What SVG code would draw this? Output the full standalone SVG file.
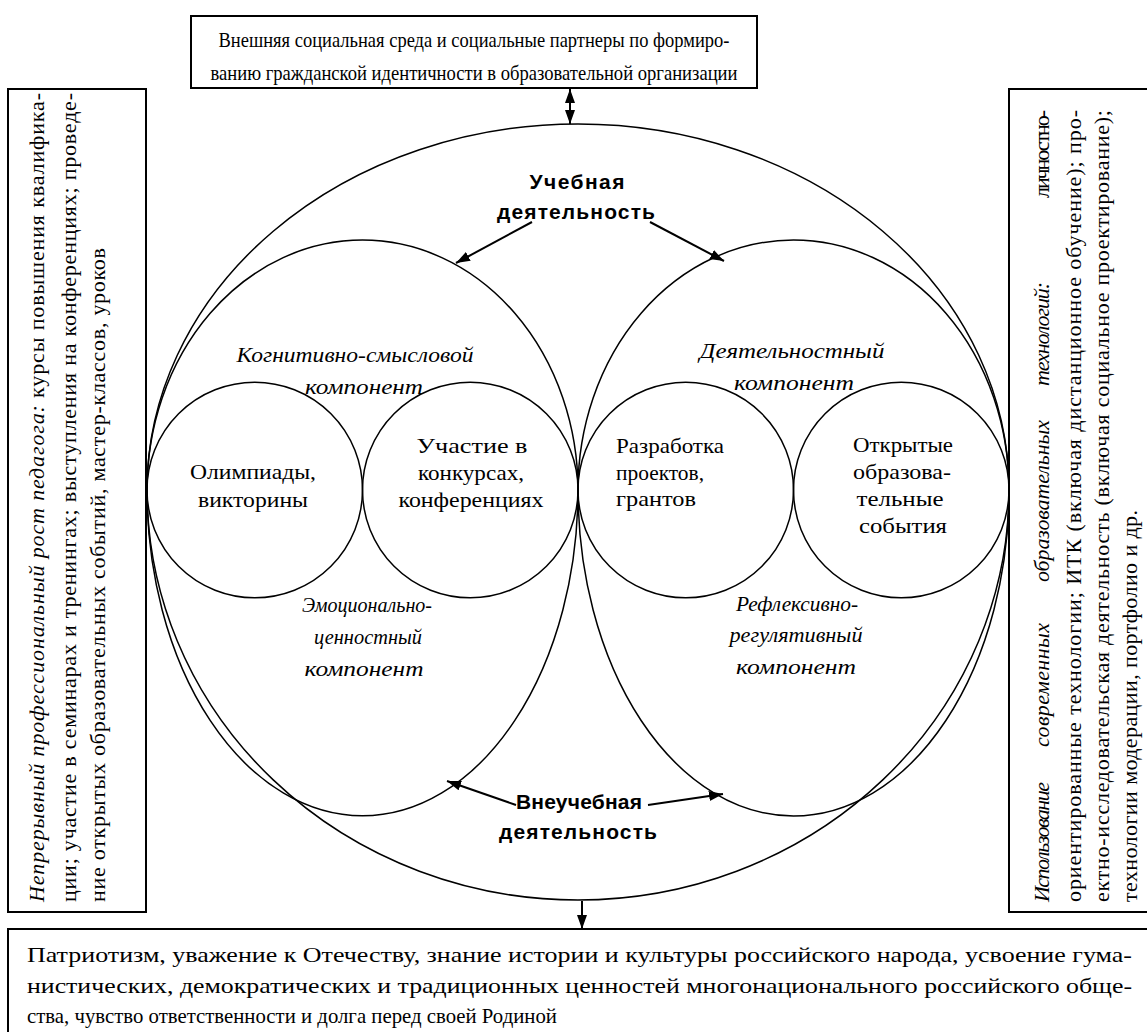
<svg xmlns="http://www.w3.org/2000/svg" width="1147" height="1032" viewBox="0 0 1147 1032">
<defs>
<style>
.box{fill:#fff;stroke:#000;stroke-width:2}
.sh{fill:none;stroke:#000;stroke-width:1.5}
.t{font-family:'Liberation Serif','Times New Roman',serif;font-size:21px;fill:#000}
.s{font-size:22px}
.l{font-size:22px}
.c{text-anchor:middle}
.i{font-style:italic}
.b{font-family:'Liberation Sans',Arial,sans-serif;font-weight:bold;font-size:21px;fill:#000}
.ar{stroke:#000;stroke-width:2;fill:none}
</style>
<marker id="ah" viewBox="0 0 14 10" refX="14" refY="5" markerWidth="14" markerHeight="10" orient="auto-start-reverse" markerUnits="userSpaceOnUse"><path d="M0,0 L14,5 L0,10 z" fill="#000"/></marker>
</defs>
<rect width="1147" height="1032" fill="#fff"/>

<g id="shapes">
<path id="outer" class="sh" d="M147,490 A431,366 0 0 1 1009,490 A431,410 0 0 1 147,490 Z"/>
<path id="left-ellipse" class="sh" d="M147,490 A215.5,250 0 0 1 578,490 A215.5,326 0 0 1 147,490 Z"/>
<path id="right-ellipse" class="sh" d="M578,490 A215.5,250 0 0 1 1009,490 A215.5,326 0 0 1 578,490 Z"/>
</g>

<g id="node-top">
<rect class="box" x="191" y="16" width="566" height="72"/>
<text class="t c" x="474" y="47" textLength="511" lengthAdjust="spacingAndGlyphs">Внешняя социальная среда и социальные партнеры по формиро-</text>
<text class="t c" x="474" y="80" textLength="527" lengthAdjust="spacingAndGlyphs">ванию гражданской идентичности в образовательной организации</text>
</g>

<g id="node-left">
<rect class="box" x="8" y="89" width="138" height="823"/>
<text class="t s" transform="translate(44,902) rotate(-90)" textLength="809" lengthAdjust="spacing"><tspan class="i">Непрерывный профессиональный рост педагога:</tspan> курсы повышения квалифика-</text>
<text class="t s" transform="translate(76,902) rotate(-90)" textLength="809" lengthAdjust="spacing">ции; участие в семинарах и тренингах; выступления на конференциях; проведе-</text>
<text class="t s" transform="translate(105,902) rotate(-90)" textLength="654">ние открытых образовательных событий, мастер-классов, уроков</text>
</g>

<g id="node-right">
<rect class="box" x="1009" y="89" width="150" height="823"/>
<g transform="translate(1049,902) rotate(-90)">
<text class="t s i" x="0" y="0" textLength="120">Использование</text>
<text class="t s i" x="155" y="0" textLength="124">современных</text>
<text class="t s i" x="320" y="0" textLength="162">образовательных</text>
<text class="t s i" x="516" y="0" textLength="104">технологий:</text>
<text class="t s" x="704" y="0" textLength="88">личностно-</text>
</g>
<text class="t s" transform="translate(1081,902) rotate(-90)" textLength="792" lengthAdjust="spacing">ориентированные технологии; ИТК (включая дистанционное обучение); про-</text>
<text class="t s" transform="translate(1109,902) rotate(-90)" textLength="792" lengthAdjust="spacing">ектно-исследовательская деятельность (включая социальное проектирование);</text>
<text class="t s" transform="translate(1137,902) rotate(-90)" textLength="392">технологии модерации, портфолио и др.</text>
</g>

<g id="node-bottom">
<rect class="box" x="8" y="929" width="1150" height="130"/>
<text class="t s" x="27" y="962" textLength="1105" lengthAdjust="spacingAndGlyphs">Патриотизм, уважение к Отечеству, знание истории и культуры российского народа, усвоение гума-</text>
<text class="t s" x="27" y="993" textLength="1105" lengthAdjust="spacingAndGlyphs">нистических, демократических и традиционных ценностей многонационального российского обще-</text>
<text class="t s" x="27" y="1023" textLength="530" lengthAdjust="spacingAndGlyphs">ства, чувство ответственности и долга перед своей Родиной</text>
</g>

<g id="node-uchebnaya">
<text class="b c" x="577" y="189" textLength="95">Учебная</text>
<text class="b c" x="576" y="219" textLength="158">деятельность</text>
</g>

<g id="node-vneuchebnaya">
<text class="b c" x="579" y="809" textLength="126">Внеучебная</text>
<text class="b c" x="578" y="839" textLength="158">деятельность</text>
</g>

<g id="node-cognitive">
<text class="t l i c" x="355" y="362" textLength="237" lengthAdjust="spacingAndGlyphs">Когнитивно-смысловой</text>
<text class="t l i c" x="364" y="394" textLength="118" lengthAdjust="spacingAndGlyphs">компонент</text>
</g>

<g id="node-activity">
<text class="t l i c" x="792" y="358" textLength="185" lengthAdjust="spacingAndGlyphs">Деятельностный</text>
<text class="t l i c" x="794" y="390" textLength="120" lengthAdjust="spacingAndGlyphs">компонент</text>
</g>

<g id="node-emotional">
<text class="t l i c" x="367" y="612" textLength="130" lengthAdjust="spacingAndGlyphs">Эмоционально-</text>
<text class="t l i c" x="368" y="644" textLength="108" lengthAdjust="spacingAndGlyphs">ценностный</text>
<text class="t l i c" x="364" y="676" textLength="119" lengthAdjust="spacingAndGlyphs">компонент</text>
</g>

<g id="node-reflexive">
<text class="t l i c" x="797" y="611" textLength="122" lengthAdjust="spacingAndGlyphs">Рефлексивно-</text>
<text class="t l i c" x="796" y="642" textLength="133" lengthAdjust="spacingAndGlyphs">регулятивный</text>
<text class="t l i c" x="796" y="674" textLength="120" lengthAdjust="spacingAndGlyphs">компонент</text>
</g>

<g id="node-olymp">
<circle class="sh" cx="254.75" cy="490" r="107.75"/>
<text class="t l c" x="253" y="479" textLength="126" lengthAdjust="spacingAndGlyphs">Олимпиады,</text>
<text class="t l c" x="253" y="507" textLength="110" lengthAdjust="spacingAndGlyphs">викторины</text>
</g>

<g id="node-contests">
<circle class="sh" cx="470.25" cy="490" r="107.75"/>
<text class="t l c" x="472" y="453" textLength="111" lengthAdjust="spacingAndGlyphs">Участие в</text>
<text class="t l c" x="471" y="480" textLength="106" lengthAdjust="spacingAndGlyphs">конкурсах,</text>
<text class="t l c" x="471" y="507" textLength="145" lengthAdjust="spacingAndGlyphs">конференциях</text>
</g>

<g id="node-projects">
<circle class="sh" cx="685.75" cy="490" r="107.75"/>
<text class="t l" x="616" y="453" textLength="108" lengthAdjust="spacingAndGlyphs">Разработка</text>
<text class="t l" x="616" y="480" textLength="88" lengthAdjust="spacingAndGlyphs">проектов,</text>
<text class="t l" x="616" y="506" textLength="80" lengthAdjust="spacingAndGlyphs">грантов</text>
</g>

<g id="node-events">
<circle class="sh" cx="901.25" cy="490" r="107.75"/>
<text class="t l c" x="903" y="452" textLength="100" lengthAdjust="spacingAndGlyphs">Открытые</text>
<text class="t l c" x="902" y="479" textLength="98" lengthAdjust="spacingAndGlyphs">образова-</text>
<text class="t l c" x="900" y="506" textLength="87" lengthAdjust="spacingAndGlyphs">тельные</text>
<text class="t l c" x="903" y="533" textLength="88" lengthAdjust="spacingAndGlyphs">события</text>
</g>

<g id="connectors">
<line class="ar" x1="570" y1="89" x2="570" y2="124" marker-start="url(#ah)" marker-end="url(#ah)"/>
<line class="ar" x1="582" y1="901" x2="582" y2="929" marker-end="url(#ah)"/>
<line class="ar" x1="532" y1="222" x2="456" y2="263" marker-end="url(#ah)"/>
<line class="ar" x1="650" y1="222" x2="724" y2="261" marker-end="url(#ah)"/>
<line class="ar" x1="516" y1="805" x2="447" y2="781" marker-end="url(#ah)"/>
<line class="ar" x1="648" y1="805" x2="723" y2="794" marker-end="url(#ah)"/>
</g>
</svg>
